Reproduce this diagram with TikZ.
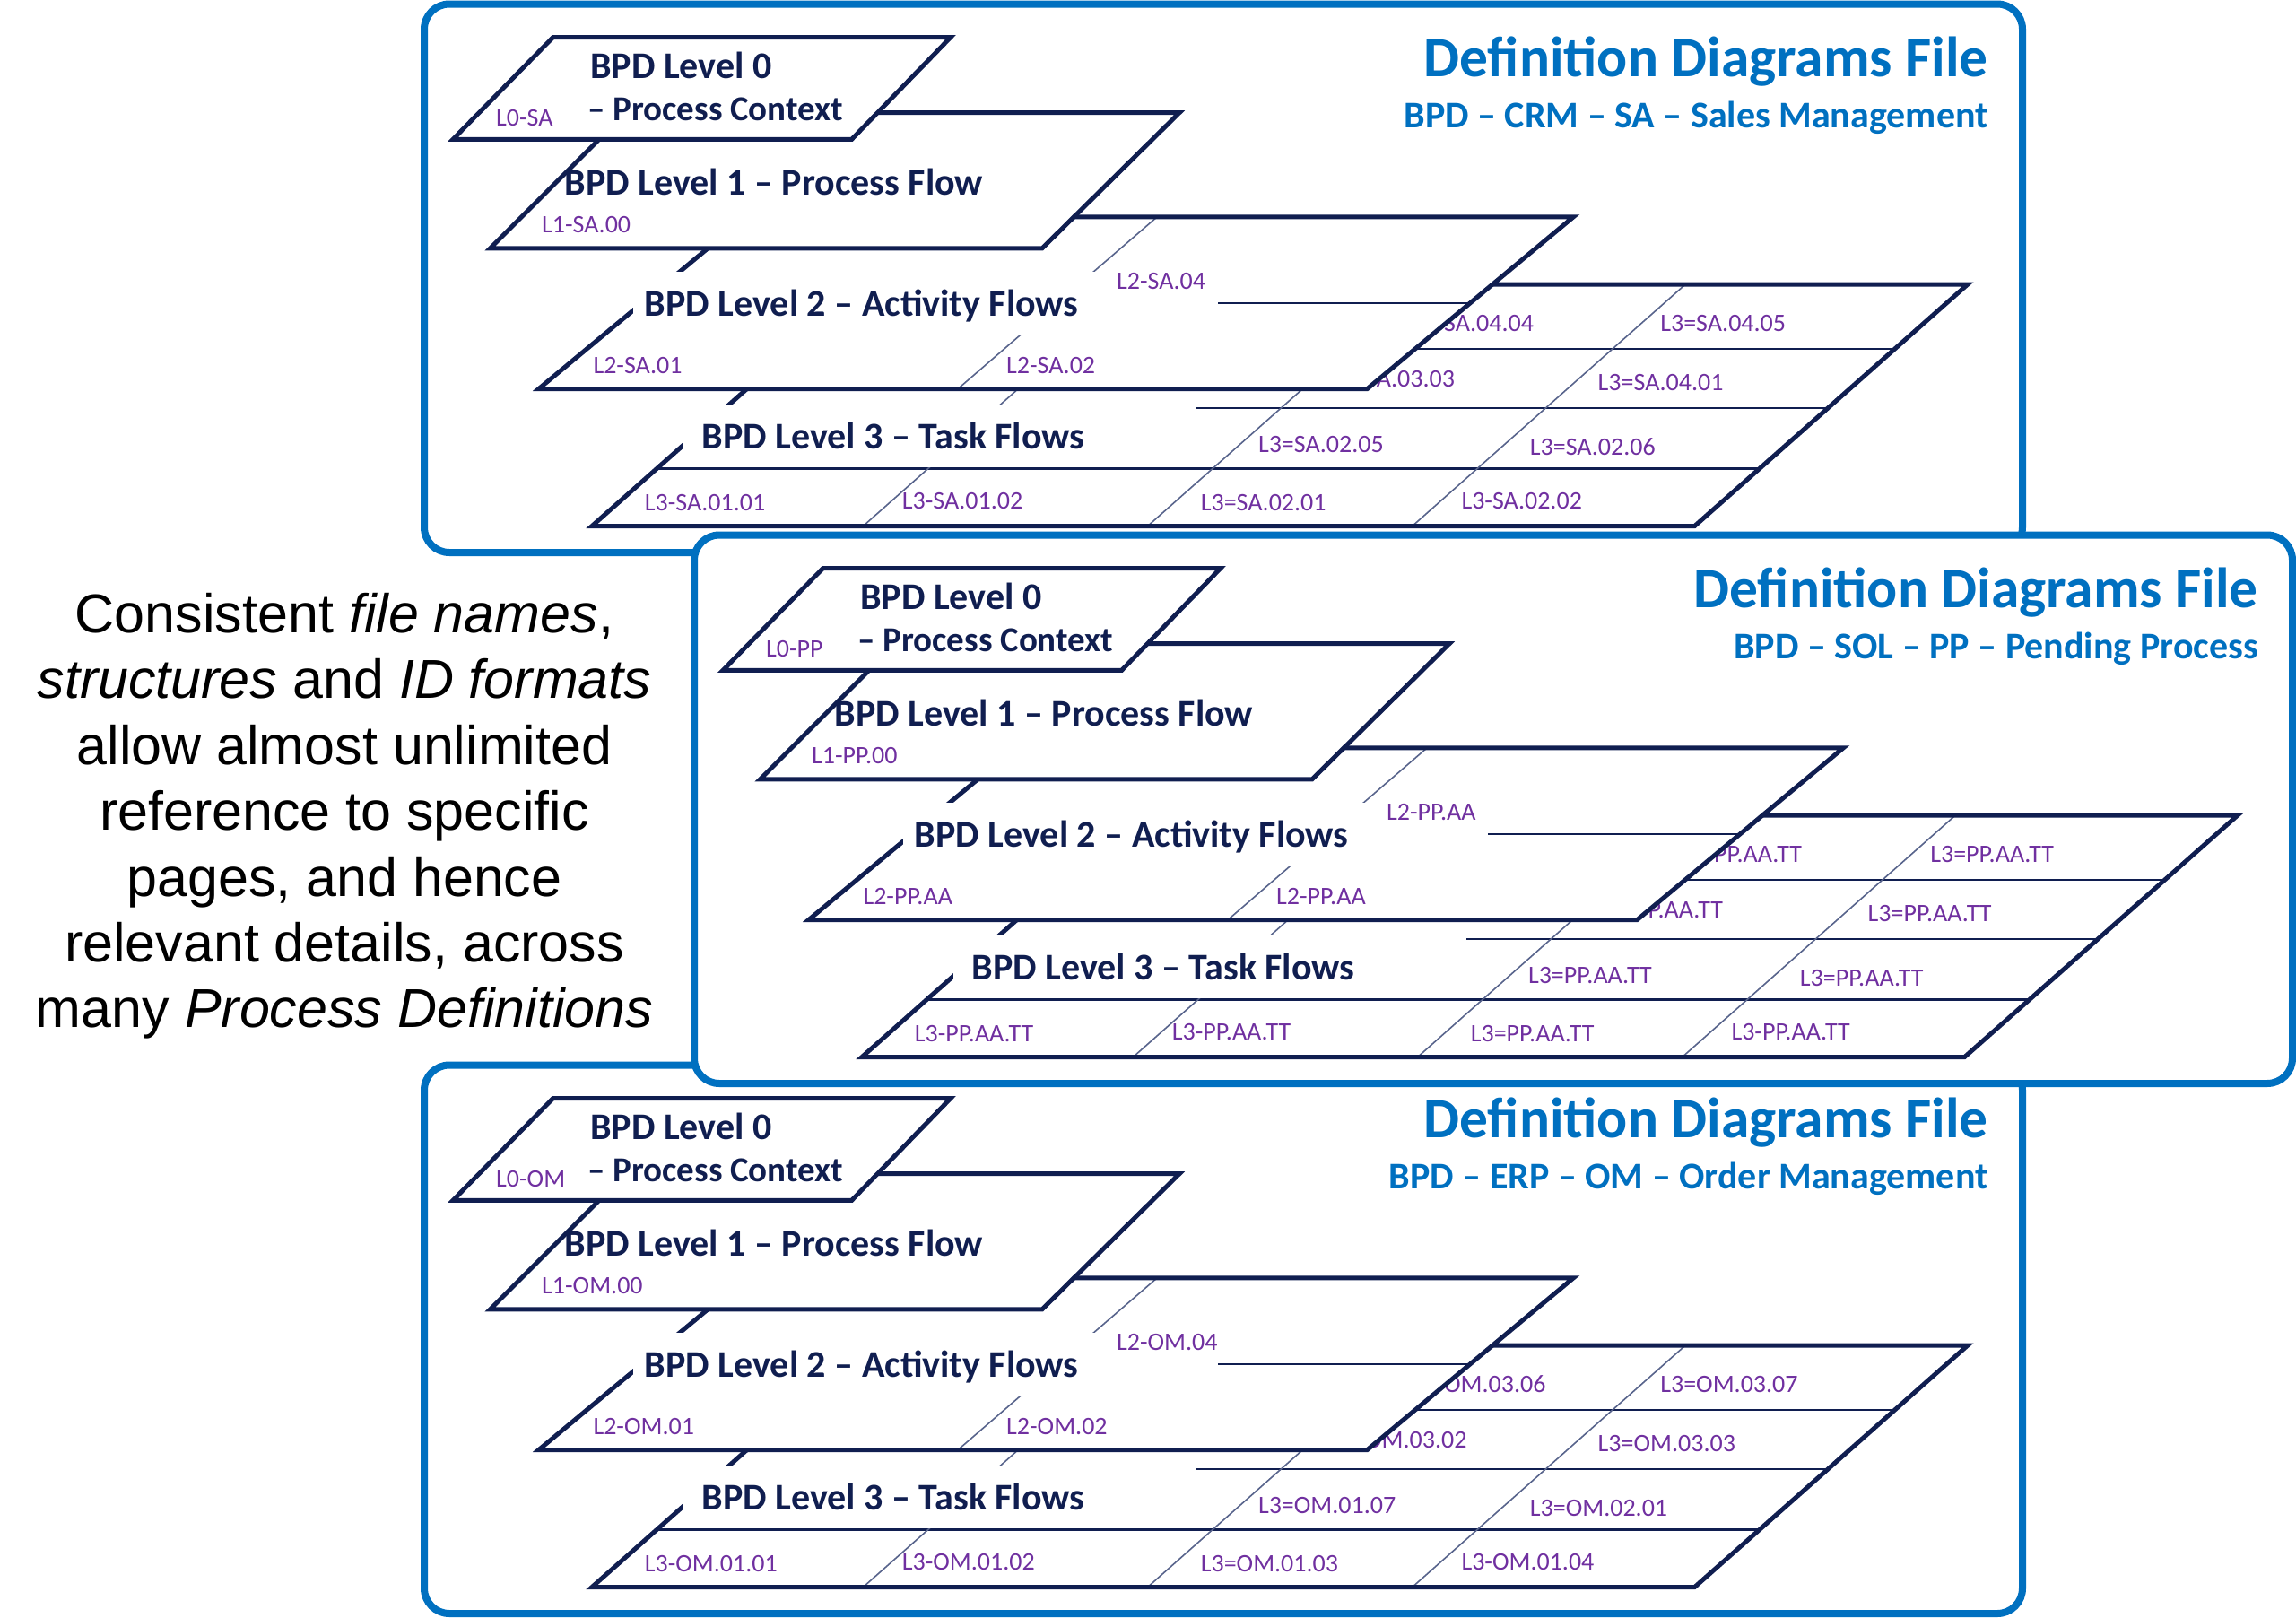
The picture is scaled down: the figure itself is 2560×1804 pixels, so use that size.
\documentclass[tikz,border=0pt]{standalone}
\usepackage{fontspec}
\setmainfont{Carlito}
\newfontfamily\sidefont{Liberation Sans}
\usetikzlibrary{calc}

\definecolor{frameblue}{RGB}{0,112,192}
\definecolor{navy}{RGB}{16,30,80}
\definecolor{idpurple}{RGB}{112,48,160}
\definecolor{splitgray}{RGB}{88,100,140}

\tikzset{
  filepanel/.style={draw=frameblue,line width=8pt,rounded corners=28pt,fill=white},
  bpdlayer/.style={draw=navy,line width=5pt},
  rowline/.style={draw=navy,line width=2.6pt},
  splitline/.style={draw=splitgray,line width=1.6pt},
  lvltitle/.style={font=\fontsize{42}{48}\selectfont\bfseries,text=navy,inner sep=0pt,anchor=base west},
  ctxtitle/.style={lvltitle,font=\fontsize{39}{45}\selectfont\bfseries},
  idlabel/.style={font=\fontsize{28}{32}\selectfont,text=idpurple,inner sep=0pt,anchor=base west},
  filehead/.style={font=\fontsize{63.5}{72}\selectfont\bfseries,text=frameblue,inner sep=0pt,anchor=base east},
  filesub/.style={font=\fontsize{42}{48}\selectfont\bfseries,text=frameblue,inner sep=0pt,anchor=base east},
  sidetext/.style={font=\sidefont\fontsize{61}{73}\selectfont,inner sep=0pt,anchor=base}
}

% one definition diagrams file: #1 name, #2 shift, #3 sub heading,
% #4 level 3 ids, #5 level 2 ids, #6 level 1 id, #7 level 0 id
\newcommand{\bpdpanel}[7]{%
  \begin{scope}[shift={#2}]
    \draw[filepanel] (473,4.5) rectangle (2255,616);
    \node[filehead] (#1-head) at (2217,85) {Definition Diagrams File};
    \node[filesub] (#1-sub) at (2217,142) {#3};
    % level 3 - task flows
    \coordinate (#1-l3nw) at (964.5,317);  \coordinate (#1-l3ne) at (2194,317);
    \coordinate (#1-l3sw) at (660,586.5);  \coordinate (#1-l3se) at (1889.5,586.5);
    \fill[white] (#1-l3nw) -- (#1-l3ne) -- (#1-l3se) -- (#1-l3sw) -- cycle;
    \foreach \f in {0.267,0.512,0.7625}
      \draw[rowline] ($(#1-l3nw)!\f!(#1-l3sw)$) -- ($(#1-l3ne)!\f!(#1-l3se)$);
    \foreach \f in {0.246,0.504,0.744}
      \draw[splitline] ($(#1-l3nw)!\f!(#1-l3ne)$) -- ($(#1-l3sw)!\f!(#1-l3se)$);
    \draw[bpdlayer] (#1-l3nw) -- (#1-l3ne) -- (#1-l3se) -- (#1-l3sw) -- cycle;
    \fill[white] (762,451) rectangle (1334,521);
    \node[lvltitle] (#1-l3) at (782.5,500) {BPD Level 3 -- Task Flows};
    \foreach \px/\py [count=\i] in {718.7/569.4,1005.7/567.4,1338.6/569.6,1629.3/567.9,
        1402.8/504.3,1705.7/507,1482/431.4,1781.5/435.8,1570/369.9,1851.1/369.9}
      \coordinate (#1-id3-\i) at (\px,\py);
    \foreach \t [count=\i] in {#4}
      \node[idlabel] (#1-id3-\i-t) at (#1-id3-\i) {\t};
    % level 2 - activity flows
    \coordinate (#1-l2nw) at (831.5,241.8);  \coordinate (#1-l2ne) at (1754.4,241.8);
    \coordinate (#1-l2sw) at (600.7,433.5);  \coordinate (#1-l2se) at (1524.5,433.5);
    \fill[white] (#1-l2nw) -- (#1-l2ne) -- (#1-l2se) -- (#1-l2sw) -- cycle;
    \draw[rowline] ($(#1-l2nw)!0.502!(#1-l2sw)$) -- ($(#1-l2ne)!0.502!(#1-l2se)$);
    \draw[splitline] ($(#1-l2nw)!0.497!(#1-l2ne)$) -- ($(#1-l2sw)!0.506!(#1-l2se)$);
    \draw[bpdlayer] (#1-l2nw) -- (#1-l2ne) -- (#1-l2se) -- (#1-l2sw) -- cycle;
    \fill[white] (706,302.5) rectangle (1358,373.5);
    \node[lvltitle] (#1-l2) at (718.7,352) {BPD Level 2 -- Activity Flows};
    \foreach \px/\py [count=\i] in {661.3/416,1122/416,1244.9/322.3}
      \coordinate (#1-id2-\i) at (\px,\py);
    \foreach \t [count=\i] in {#5}
      \node[idlabel] (#1-id2-\i-t) at (#1-id2-\i) {\t};
    % level 1 - process flow
    \draw[bpdlayer,fill=white] (697.6,125.7) -- (1315,125.7) -- (1162,276.8) -- (546.5,276.8) -- cycle;
    \node[lvltitle] (#1-l1) at (629.4,217.5) {BPD Level 1 -- Process Flow};
    \node[idlabel] (#1-id1) at (604,259.8) {#6};
    % level 0 - process context
    \draw[bpdlayer,fill=white] (616.7,41.5) -- (1060,41.5) -- (949.6,155.4) -- (505,155.4) -- cycle;
    \node[lvltitle] (#1-l0a) at (658,87.8) {BPD Level 0};
    \node[ctxtitle] (#1-l0b) at (655,134) {-- Process Context};
    \node[idlabel] (#1-id0) at (553,140.4) {#7};
  \end{scope}}

\begin{document}
\begin{tikzpicture}[x=1pt,y=-1pt]
\path[fill=white] (0,0) rectangle (2560,1804);

\bpdpanel{sa}{(0,0)}{BPD -- CRM -- SA -- Sales Management}
  {L3-SA.01.01,L3-SA.01.02,L3=SA.02.01,L3-SA.02.02,L3=SA.02.05,L3=SA.02.06,L3=SA.03.03,L3=SA.04.01,L3=SA.04.04,L3=SA.04.05}
  {L2-SA.01,L2-SA.02,L2-SA.04}{L1-SA.00}{L0-SA}
\bpdpanel{om}{(0,1183)}{BPD -- ERP -- OM -- Order Management}
  {L3-OM.01.01,L3-OM.01.02,L3=OM.01.03,L3-OM.01.04,L3=OM.01.07,L3=OM.02.01,L3=OM.03.02,L3=OM.03.03,L3=OM.03.06,L3=OM.03.07}
  {L2-OM.01,L2-OM.02,L2-OM.04}{L1-OM.00}{L0-OM}
\bpdpanel{pp}{(301,592)}{BPD -- SOL -- PP -- Pending Process}
  {L3-PP.AA.TT,L3-PP.AA.TT,L3=PP.AA.TT,L3-PP.AA.TT,L3=PP.AA.TT,L3=PP.AA.TT,L3=PP.AA.TT,L3=PP.AA.TT,L3=PP.AA.TT,L3=PP.AA.TT}
  {L2-PP.AA,L2-PP.AA,L2-PP.AA}{L1-PP.00}{L0-PP}

% side note
\foreach \ln [count=\i] in {{Consistent \emph{file names},},{\emph{structures} and \emph{ID formats}},
    {allow almost unlimited},{reference to specific},{pages, and hence},
    {relevant details, across},{many \emph{Process Definitions}}}
  \node[sidetext] (side-\i) at (384,{705.4+73.4*(\i-1)}) {\ln};
\end{tikzpicture}
\end{document}
